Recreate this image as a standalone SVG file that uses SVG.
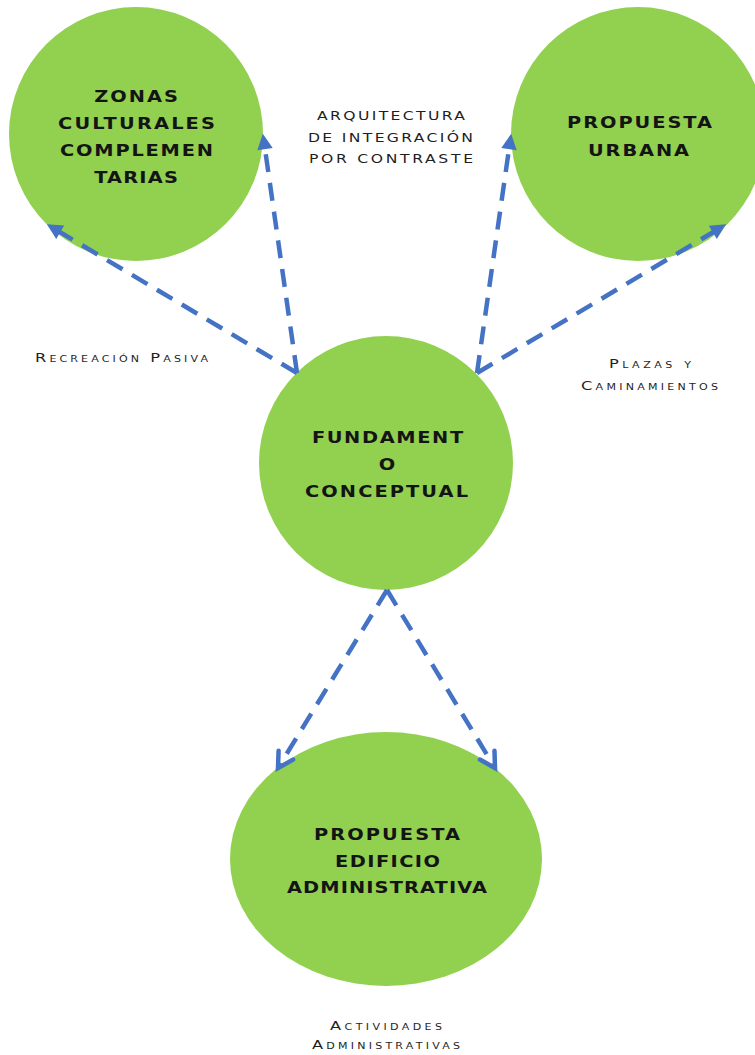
<svg xmlns="http://www.w3.org/2000/svg" width="755" height="1055" viewBox="0 0 755 1055">
  <style>
    .node { fill: #92D050; }
    .ntext { font-family: "DejaVu Sans", "Liberation Sans", sans-serif; font-weight: bold; font-size: 15.5px; fill: #141414; text-anchor: middle; }
    .label { font-family: "DejaVu Sans", "Liberation Sans", sans-serif; font-size: 12.5px; fill: #1f1f1f; text-anchor: middle; }
    .sc { font-variant: small-caps; font-size: 13px; }
    .link { fill: none; stroke: #4472C4; stroke-width: 4.5; stroke-dasharray: 18 11; }
  </style>
  <defs>
    <marker id="tri" markerUnits="userSpaceOnUse" markerWidth="20" markerHeight="20" refX="2" refY="0" viewBox="-2 -8 18 16" orient="auto" overflow="visible">
      <path d="M0,-7 L14,0 L0,7 Z" fill="#4472C4"/>
    </marker>
    <marker id="open" markerUnits="userSpaceOnUse" markerWidth="24" markerHeight="24" refX="0" refY="0" viewBox="-20 -12 24 24" orient="auto" overflow="visible">
      <path d="M-15,-8.5 L0,0 L-15,8.5" fill="none" stroke="#4472C4" stroke-width="4.5" stroke-linejoin="miter" stroke-linecap="round"/>
    </marker>
  </defs>

  <rect width="755" height="1055" fill="#ffffff"/>

  <!-- Text is drawn at the origin, then placed and widened 1.25x by its transform -->
  <g id="zonas-culturales">
    <circle class="node" cx="136" cy="134" r="127"/>
    <text class="ntext" transform="translate(136 102) scale(1.25 1)" textLength="67" lengthAdjust="spacing">ZONAS</text>
    <text class="ntext" transform="translate(136.5 129) scale(1.25 1)" textLength="125.6" lengthAdjust="spacing">CULTURALES</text>
    <text class="ntext" transform="translate(136.5 156) scale(1.25 1)" textLength="122.4" lengthAdjust="spacing">COMPLEMEN</text>
    <text class="ntext" transform="translate(136 183) scale(1.25 1)" textLength="67" lengthAdjust="spacing">TARIAS</text>
  </g>

  <g id="propuesta-urbana">
    <circle class="node" cx="638" cy="134" r="127"/>
    <text class="ntext" transform="translate(639.5 128) scale(1.25 1)" textLength="116" lengthAdjust="spacing">PROPUESTA</text>
    <text class="ntext" transform="translate(638.5 156) scale(1.25 1)" textLength="81" lengthAdjust="spacing">URBANA</text>
  </g>

  <g id="fundamento-conceptual">
    <circle class="node" cx="386" cy="463" r="127"/>
    <text class="ntext" transform="translate(387.5 443) scale(1.25 1)" textLength="121" lengthAdjust="spacing">FUNDAMENT</text>
    <text class="ntext" transform="translate(387 470) scale(1.25 1)">O</text>
    <text class="ntext" transform="translate(386.5 497) scale(1.25 1)" textLength="130.4" lengthAdjust="spacing">CONCEPTUAL</text>
  </g>

  <g id="propuesta-edificio">
    <ellipse class="node" cx="386" cy="859" rx="156" ry="127"/>
    <text class="ntext" transform="translate(387 840) scale(1.25 1)" textLength="116.8" lengthAdjust="spacing">PROPUESTA</text>
    <text class="ntext" transform="translate(387.5 867) scale(1.25 1)" textLength="84" lengthAdjust="spacing">EDIFICIO</text>
    <text class="ntext" transform="translate(387 893) scale(1.25 1)" textLength="160" lengthAdjust="spacing">ADMINISTRATIVA</text>
  </g>

  <g id="connectors">
    <line class="link" x1="297" y1="373" x2="58.3" y2="231.1" marker-end="url(#tri)"/>
    <line class="link" x1="297" y1="373" x2="264.7" y2="146.9" marker-end="url(#tri)"/>
    <line class="link" x1="477" y1="373" x2="509.3" y2="146.9" marker-end="url(#tri)"/>
    <line class="link" x1="477" y1="373" x2="714.7" y2="231.2" marker-end="url(#tri)"/>
    <line class="link" x1="387" y1="590" x2="278" y2="768" marker-end="url(#open)"/>
    <line class="link" x1="387" y1="590" x2="495" y2="768" marker-end="url(#open)"/>
  </g>

  <g id="labels">
    <text class="label" transform="translate(391 120) scale(1.25 1)" textLength="118.4" lengthAdjust="spacing">ARQUITECTURA</text>
    <text class="label" transform="translate(390.5 142) scale(1.25 1)" textLength="132" lengthAdjust="spacing">DE INTEGRACIÓN</text>
    <text class="label" transform="translate(391 163) scale(1.25 1)" textLength="131.2" lengthAdjust="spacing">POR CONTRASTE</text>
    <text class="label sc" transform="translate(121.5 362) scale(1.25 1)" textLength="138.4" lengthAdjust="spacing">Recreación Pasiva</text>
    <text class="label sc" transform="translate(650 368) scale(1.25 1)" textLength="65.6" lengthAdjust="spacing">Plazas y</text>
    <text class="label sc" transform="translate(649.5 390) scale(1.25 1)" textLength="109.6" lengthAdjust="spacing">Caminamientos</text>
    <text class="label sc" transform="translate(386 1030) scale(1.25 1)" textLength="89.6" lengthAdjust="spacing">Actividades</text>
    <text class="label sc" transform="translate(386 1049) scale(1.25 1)" textLength="118.4" lengthAdjust="spacing">Administrativas</text>
  </g>
</svg>
